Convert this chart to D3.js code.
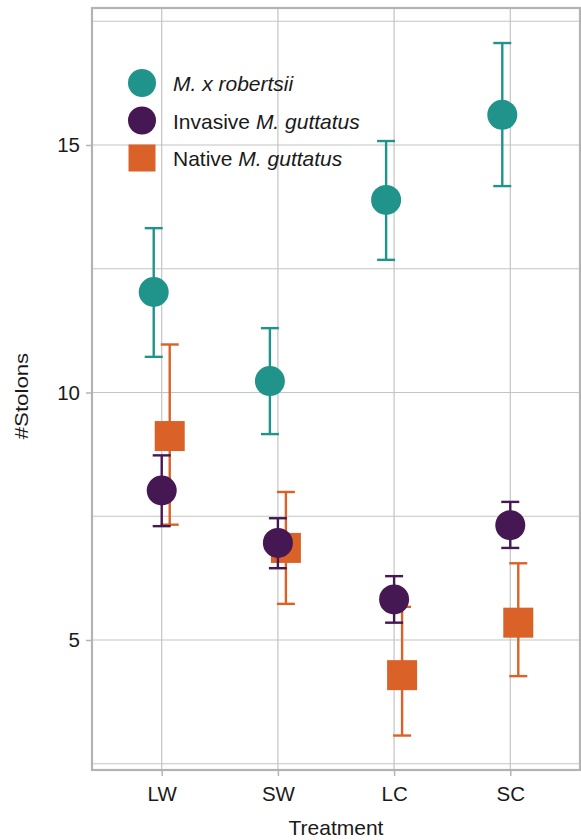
<!DOCTYPE html>
<html>
<head>
<meta charset="utf-8">
<script src="https://cdn.jsdelivr.net/npm/d3@7"></script>
<style>
  html, body { margin: 0; padding: 0; background: #fff; }
  svg { display: block; font-family: "Liberation Sans", Arial, Helvetica, sans-serif; }
</style>
</head>
<body>
<svg id="chart" width="581" height="840"></svg>
<script>
// Treatments on the x axis
const treatments = ["LW", "SW", "LC", "SC"];

// Mean number of stolons and the lower / upper ends of the error bars
const robertsiiMean  = [12.03, 10.23, 13.89, 15.61];
const robertsiiLow   = [10.72,  9.16, 12.68, 14.17];
const robertsiiHigh  = [13.32, 11.30, 15.08, 17.06];

const invasiveMean   = [8.02, 6.96, 5.82, 7.32];
const invasiveLow    = [7.30, 6.45, 5.35, 6.86];
const invasiveHigh   = [8.73, 7.46, 6.29, 7.79];

const nativeMean     = [9.12, 6.86, 4.29, 5.35];
const nativeLow      = [7.33, 5.73, 3.07, 4.27];
const nativeHigh     = [10.97, 7.99, 5.67, 6.55];

const yMajorTicks = [5, 10, 15];
const yMinorTicks = [2.5, 7.5, 12.5, 17.5];

const series = [
  { key: "native",    label: ["Native ", "M. guttatus"], italicFrom: 1, shape: "square", color: "#da6228", dodge: 1,
    mean: nativeMean, low: nativeLow, high: nativeHigh },
  { key: "robertsii", label: ["", "M. x robertsii"], italicFrom: 1, shape: "circle", color: "#20948b", dodge: -1,
    mean: robertsiiMean, low: robertsiiLow, high: robertsiiHigh },
  { key: "invasive",  label: ["Invasive ", "M. guttatus"], italicFrom: 1, shape: "circle", color: "#451853", dodge: 0,
    mean: invasiveMean, low: invasiveLow, high: invasiveHigh }
];
const legendOrder = ["robertsii", "invasive", "native"];

const panel = { left: 92, right: 580, top: 8, bottom: 770 };
const svg = d3.select("#chart");

const x = d3.scalePoint().domain(treatments).range([panel.left, panel.right]).padding(0.6);
// y: 49.5 px per stolon, 5 at 640 px
const y = d3.scaleLinear()
  .domain([5 - (panel.bottom - 640) / 49.5, 5 + (640 - panel.top) / 49.5])
  .range([panel.bottom, panel.top]);

const gridColor = "#c4c4c4";
const textColor = "#1a1a1a";
const dodgePx = 8;

// grid
const grid = svg.append("g");
grid.selectAll("line.h").data(yMinorTicks.concat(yMajorTicks)).join("line")
  .attr("x1", panel.left).attr("x2", panel.right)
  .attr("y1", d => y(d)).attr("y2", d => y(d))
  .attr("stroke", gridColor).attr("stroke-width", 1.2);
grid.selectAll("line.v").data(treatments).join("line")
  .attr("y1", panel.top).attr("y2", panel.bottom)
  .attr("x1", d => x(d)).attr("x2", d => x(d))
  .attr("stroke", gridColor).attr("stroke-width", 1.2);

// axes
const xAxis = svg.append("g").attr("transform", `translate(0,${panel.bottom})`)
  .call(d3.axisBottom(x).tickSize(6).tickPadding(10));
const yAxis = svg.append("g").attr("transform", `translate(${panel.left},0)`)
  .call(d3.axisLeft(y).tickValues(yMajorTicks).tickSize(6).tickPadding(6));
[xAxis, yAxis].forEach(a => {
  a.select(".domain").remove();
  a.selectAll(".tick line").attr("stroke", "#b5b5b5").attr("stroke-width", 1.5);
  a.selectAll(".tick text").attr("fill", textColor).attr("font-size", 20.5)
    .attr("font-family", "Liberation Sans, Arial, sans-serif");
});

// panel border
svg.append("rect")
  .attr("x", panel.left).attr("y", panel.top)
  .attr("width", panel.right - panel.left).attr("height", panel.bottom - panel.top)
  .attr("fill", "none").attr("stroke", "#b3b3b3").attr("stroke-width", 2.2);

// axis titles
svg.append("text").attr("x", (panel.left + panel.right) / 2).attr("y", 835)
  .attr("text-anchor", "middle").attr("font-size", 21).attr("fill", textColor)
  .text("Treatment");
svg.append("text")
  .attr("transform", `translate(28,396) rotate(-90) scale(1.27,1)`)
  .attr("text-anchor", "middle").attr("font-size", 17.5).attr("fill", textColor)
  .text("#Stolons");

// error bars and points
const capHalf = 9;
series.forEach(s => {
  const g = svg.append("g");
  const rows = treatments.map((t, i) => ({
    cx: x(t) + s.dodge * dodgePx, m: s.mean[i], lo: s.low[i], hi: s.high[i]
  }));
  g.selectAll("line.stem").data(rows).join("line")
    .attr("x1", d => d.cx).attr("x2", d => d.cx)
    .attr("y1", d => y(d.lo)).attr("y2", d => y(d.hi))
    .attr("stroke", s.color).attr("stroke-width", 2.4);
  ["lo", "hi"].forEach(k => {
    g.selectAll("line.cap" + k).data(rows).join("line")
      .attr("x1", d => d.cx - capHalf).attr("x2", d => d.cx + capHalf)
      .attr("y1", d => y(d[k])).attr("y2", d => y(d[k]))
      .attr("stroke", s.color).attr("stroke-width", 2.4);
  });
  if (s.shape === "circle") {
    g.selectAll("circle").data(rows).join("circle")
      .attr("cx", d => d.cx).attr("cy", d => y(d.m)).attr("r", 15)
      .attr("fill", s.color);
  } else {
    g.selectAll("rect").data(rows).join("rect")
      .attr("x", d => d.cx - 15).attr("y", d => y(d.m) - 15)
      .attr("width", 30).attr("height", 30)
      .attr("fill", s.color);
  }
});

// legend
const legend = svg.append("g");
legendOrder.forEach((k, i) => {
  const s = series.find(d => d.key === k);
  const cy = 83 + i * 37.5;
  if (s.shape === "circle") {
    legend.append("circle").attr("cx", 142).attr("cy", cy).attr("r", 14).attr("fill", s.color);
  } else {
    legend.append("rect").attr("x", 142 - 13.5).attr("y", cy - 13.5)
      .attr("width", 27).attr("height", 27).attr("fill", s.color);
  }
  const t = legend.append("text").attr("x", 173).attr("y", cy + 8)
    .attr("font-size", 21).attr("fill", textColor);
  s.label.forEach((part, j) => {
    if (!part) return;
    t.append("tspan").attr("font-style", j >= s.italicFrom ? "italic" : "normal").text(part);
  });
});
</script>
</body>
</html>
